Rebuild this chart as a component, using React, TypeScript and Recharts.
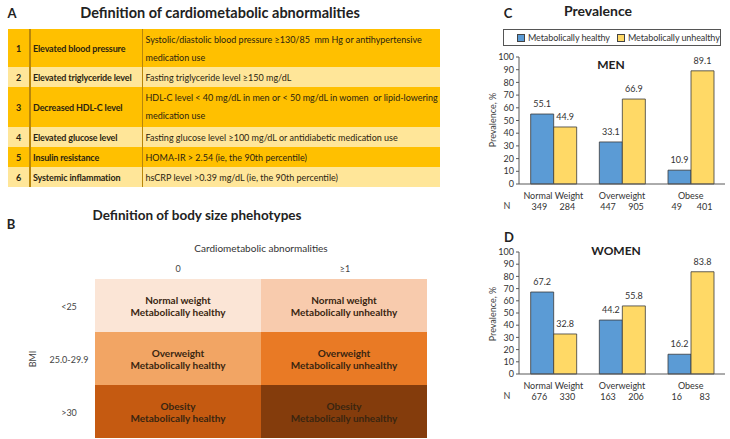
import React from 'react'
import { BarChart, Bar, XAxis, YAxis, LabelList } from 'recharts'

// panel C / D data
const categories = ['Normal Weight', 'Overweight', 'Obese']
const menHealthy = [55.1, 33.1, 10.9]
const menUnhealthy = [44.9, 66.9, 89.1]
const menNHealthy = [349, 447, 49]
const menNUnhealthy = [284, 905, 401]
const womenHealthy = [67.2, 44.2, 16.2]
const womenUnhealthy = [32.8, 55.8, 83.8]
const womenNHealthy = [676, 163, 16]
const womenNUnhealthy = [330, 206, 83]
const yTicks = [0, 10, 20, 30, 40, 50, 60, 70, 80, 90, 100]
const seriesNames = ['Metabolically healthy', 'Metabolically unhealthy']

// panel A table
const abnormalityNames = [
  'Elevated blood pressure',
  'Elevated triglyceride level',
  'Decreased HDL-C level',
  'Elevated glucose level',
  'Insulin resistance',
  'Systemic inflammation',
]
const abnormalityDefs = [
  ['Systolic/diastolic blood pressure \u2265130/85  mm Hg or antihypertensive', 'medication use'],
  ['Fasting triglyceride level \u2265150 mg/dL'],
  ['HDL-C level < 40 mg/dL in men or < 50 mg/dL in women  or lipid-lowering', 'medication use'],
  ['Fasting glucose level \u2265100 mg/dL or antidiabetic medication use'],
  ['HOMA-IR > 2.54 (ie, the 90th percentile)'],
  ['hsCRP level >0.39 mg/dL (ie, the 90th percentile)'],
]

// panel B grid
const bmiRows = ['<25', '25.0-29.9', '>30']
const abnormalityCols = ['0', '\u22651']
const weightLabels = ['Normal weight', 'Overweight', 'Obesity']
const healthLabels = ['Metabolically healthy', 'Metabolically unhealthy']

const FONT = 'Lato, "Open Sans", sans-serif'
const BLUE = '#5B9BD5'
const YELLOW = '#FFD966'
const rowHeights = [38, 20, 40, 20, 20, 20]
const cellColors = [
  ['#FBE5D6', '#F8CBAD'],
  ['#F2A564', '#E97A25'],
  ['#C55A11', '#843C0C'],
]

function At({ x, y, children, style }: any) {
  return (
    <div
      style={{
        position: 'absolute',
        left: x,
        top: y,
        transform: 'translate(-50%, -50%)',
        whiteSpace: 'nowrap',
        ...style,
      }}
    >
      {children}
    </div>
  )
}

function renderTick(props: any, nH: number[], nU: number[]) {
  const { x, y, payload, index } = props
  return (
    <g>
      <text x={x} y={y + 13} textAnchor="middle" fontSize={9} fill="#333" fontFamily={FONT}>
        {payload.value}
      </text>
      <text x={x - 14} y={y + 24} textAnchor="middle" fontSize={9} fill="#333" fontFamily={FONT}>
        {nH[index]}
      </text>
      <text x={x + 14} y={y + 24} textAnchor="middle" fontSize={9} fill="#333" fontFamily={FONT}>
        {nU[index]}
      </text>
    </g>
  )
}

function PrevalenceChart({ top, height, healthy, unhealthy, nHealthy, nUnhealthy }: any) {
  const data = categories.map((c, i) => ({ name: c, healthy: healthy[i], unhealthy: unhealthy[i] }))
  return (
    <div style={{ position: 'absolute', left: 480, top, width: 250, height }}>
      <BarChart
        width={250}
        height={height}
        data={data}
        margin={{ top: 7, right: 5, left: 0, bottom: 6 }}
        barCategoryGap="17%"
        barGap={0}
        style={{ fontFamily: FONT }}
      >
        <XAxis
          dataKey="name"
          height={30}
          tickSize={0}
          tickLine={false}
          interval={0}
          axisLine={{ stroke: '#595959' }}
          tick={(p: any) => renderTick(p, nHealthy, nUnhealthy)}
        />
        <YAxis
          width={39}
          domain={[0, 100]}
          ticks={yTicks}
          interval={0}
          tickSize={3}
          tickMargin={2}
          tick={{ fontSize: 9, fill: '#333' }}
          axisLine={{ stroke: '#595959' }}
          tickLine={{ stroke: '#595959' }}
        />
        <Bar dataKey="healthy" fill={BLUE} stroke="#3a3a3a" strokeWidth={0.8} isAnimationActive={false}>
          <LabelList
            dataKey="healthy"
            position="top"
            offset={7}
            fontSize={9}
            fill="#333"
            formatter={(v: any) => Number(v).toFixed(1)}
          />
        </Bar>
        <Bar dataKey="unhealthy" fill={YELLOW} stroke="#3a3a3a" strokeWidth={0.8} isAnimationActive={false}>
          <LabelList
            dataKey="unhealthy"
            position="top"
            offset={7}
            fontSize={9}
            fill="#333"
            formatter={(v: any) => Number(v).toFixed(1)}
          />
        </Bar>
      </BarChart>
    </div>
  )
}

export default function App() {
  const panelLetter = { fontWeight: 700, fontSize: 13, color: '#222' }
  const title = { fontWeight: 700, fontSize: 14, color: '#222' }
  const small = { fontSize: 9, color: '#444' }

  return (
    <div
      style={{
        position: 'absolute',
        left: 0,
        top: 0,
        width: 730,
        height: 439,
        background: '#fff',
        fontFamily: FONT,
        overflow: 'hidden',
      }}
    >
      {/* A: table */}
      <At x={12} y={13} style={panelLetter}>A</At>
      <At x={220} y={12} style={{ ...title, fontSize: 14.5 }}>Definition of cardiometabolic abnormalities</At>
      <table
        style={{
          position: 'absolute',
          left: 8,
          top: 29,
          width: 432,
          borderCollapse: 'collapse',
          tableLayout: 'fixed',
          fontSize: 9,
          color: '#2b2410',
        }}
      >
        <colgroup>
          <col style={{ width: 22 }} />
          <col style={{ width: 112 }} />
          <col style={{ width: 298 }} />
        </colgroup>
        <tbody>
          {abnormalityNames.map((name, i) => {
            const bg = i % 2 === 0 ? '#FFC000' : '#FFE699'
            return (
              <tr key={name} style={{ height: rowHeights[i], background: bg }}>
                <td style={{ textAlign: 'center', fontWeight: 700, padding: 0, borderRight: '2px solid #B8860B' }}>
                  {i + 1}
                </td>
                <td
                  style={{
                    fontWeight: 700,
                    padding: '0 0 0 2px',
                    whiteSpace: 'nowrap',
                    overflow: 'hidden',
                    letterSpacing: -0.15,
                    borderRight: '1px solid #B8860B',
                  }}
                >
                  {name}
                </td>
                <td style={{ verticalAlign: 'top', padding: '2px 0 0 3px', lineHeight: '18px', whiteSpace: 'pre' }}>
                  {abnormalityDefs[i].map((line, j) => (
                    <div key={j}>{line}</div>
                  ))}
                </td>
              </tr>
            )
          })}
        </tbody>
      </table>

      {/* B: phenotype grid */}
      <At x={11} y={224} style={panelLetter}>B</At>
      <At x={197} y={215} style={{ ...title, fontSize: 13.5 }}>Definition of body size phehotypes</At>
      <At x={261} y={248} style={{ fontSize: 10, color: '#333' }}>Cardiometabolic abnormalities</At>
      {abnormalityCols.map((c, j) => (
        <At key={c} x={178 + j * 167} y={268} style={small}>{c}</At>
      ))}
      {bmiRows.map((r, i) => (
        <At key={r} x={69} y={306 + i * 53} style={small}>{r}</At>
      ))}
      <At x={32} y={359} style={{ ...small, transform: 'translate(-50%, -50%) rotate(-90deg)' }}>BMI</At>
      {weightLabels.map((w, i) =>
        healthLabels.map((h, j) => (
          <div
            key={w + h}
            style={{
              position: 'absolute',
              left: 95 + j * 166,
              top: 279 + i * 53,
              width: 166,
              height: 53,
              background: cellColors[i][j],
              display: 'flex',
              flexDirection: 'column',
              alignItems: 'center',
              justifyContent: 'center',
              fontWeight: 700,
              fontSize: 10,
              lineHeight: '12px',
              color: '#3a2510',
            }}
          >
            <div>{w}</div>
            <div>{h}</div>
          </div>
        ))
      )}

      {/* C / D: prevalence */}
      <At x={508} y={13} style={panelLetter}>C</At>
      <At x={598} y={10} style={title}>Prevalence</At>
      <div
        style={{
          position: 'absolute',
          left: 503,
          top: 29,
          width: 218,
          height: 17,
          border: '1px solid #555',
          boxSizing: 'border-box',
          fontSize: 9,
          letterSpacing: -0.1,
          color: '#333',
        }}
      >
        {seriesNames.map((s, i) => (
          <div
            key={s}
            style={{
              position: 'absolute',
              left: i === 0 ? 13 : 113,
              top: 2,
              display: 'flex',
              alignItems: 'center',
              whiteSpace: 'nowrap',
            }}
          >
            <span
              style={{
                display: 'inline-block',
                width: 6,
                height: 6,
                background: i === 0 ? BLUE : YELLOW,
                border: '1px solid #444',
                marginRight: 3,
              }}
            />
            {s}
          </div>
        ))}
      </div>
      <At x={611} y={64} style={{ fontWeight: 700, fontSize: 12, color: '#222' }}>MEN</At>
      <At x={492} y={120} style={{ ...small, transform: 'translate(-50%, -50%) rotate(-90deg)' }}>Prevalence, %</At>
      <At x={507} y={205} style={small}>N</At>
      <PrevalenceChart
        top={50}
        height={170}
        healthy={menHealthy}
        unhealthy={menUnhealthy}
        nHealthy={menNHealthy}
        nUnhealthy={menNUnhealthy}
      />

      <At x={509} y={237} style={panelLetter}>D</At>
      <At x={616} y={250} style={{ fontWeight: 700, fontSize: 12, color: '#222' }}>WOMEN</At>
      <At x={492} y={314} style={{ ...small, transform: 'translate(-50%, -50%) rotate(-90deg)' }}>Prevalence, %</At>
      <At x={507} y={395} style={small}>N</At>
      <PrevalenceChart
        top={245}
        height={165}
        healthy={womenHealthy}
        unhealthy={womenUnhealthy}
        nHealthy={womenNHealthy}
        nUnhealthy={womenNUnhealthy}
      />
    </div>
  )
}
